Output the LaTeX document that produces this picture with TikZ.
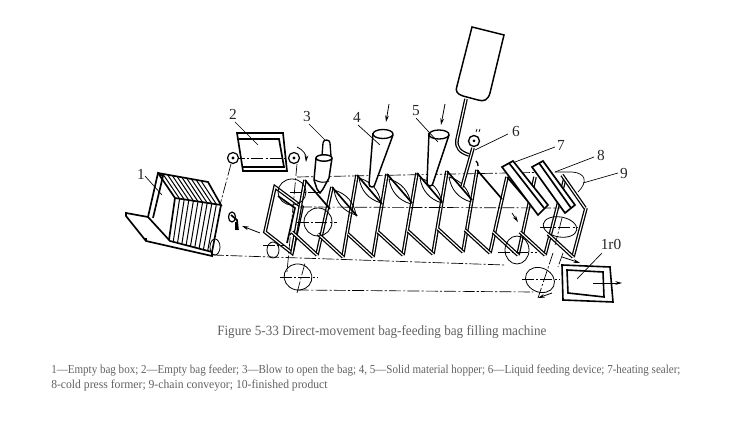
\documentclass[tikz,border=0pt]{standalone}
\usepackage{fontspec}
\setmainfont{Liberation Serif}
\newfontfamily\capfont[FakeStretch=0.93]{Liberation Serif}
\newfontfamily\legfont[FakeStretch=0.905]{Liberation Serif}
\newfontfamily\legtwofont[FakeStretch=0.955]{Liberation Serif}
\usetikzlibrary{arrows.meta}
\tikzset{
 heavy/.style={line width=1.25pt,line join=miter},
 twin/.style={line width=0.95pt,double,double distance=0.85pt,line join=miter},
 ctr/.style={line width=0.5pt,dash pattern=on 9pt off 1.6pt on 1.6pt off 1.6pt},
 cap line/.style={line width=0.5pt},
 tag/.style={font=\fontsize{11.5}{12}\selectfont,inner sep=0pt,text=black!85},
 mover/.style={line width=0.6pt,-{Stealth[length=5pt,width=2.8pt]}},
 caption text/.style={font=\capfont\fontsize{10.6}{12}\selectfont,text=black!62,inner sep=0pt,anchor=west},
 legend text/.style={font=\legfont\fontsize{9.15}{12}\selectfont,text=black!62,inner sep=0pt,anchor=west},
 legend two/.style={font=\legtwofont\fontsize{9.15}{12}\selectfont,text=black!62,inner sep=0pt,anchor=west},
}
\begin{document}
\begin{tikzpicture}[x=0.75pt,y=-0.75pt]
\useasboundingbox (0,0) rectangle (751,423);

% --- bag box 1
\draw[heavy] (126,213)--(148,217)--(170,241)--(212,252)--(212,256)--(146,241)--(126,216)--cycle;
\draw[heavy] (146,238)--(146,241);
\draw[heavy] (148,217)--(158,173)--(163,176)--(153,218);
\draw[heavy] (158,173)--(208,182)--(221,205)--(175,198)--(158,173);
\draw[heavy] (175,198)--(169,240);
\draw[heavy] (221,205)--(212,252);
\foreach \i in {1,...,9}{
  \draw[line width=.75pt] ({175+\i*4.6},{198+\i*0.7})--({169+\i*4.3},{240+\i*1.2});
  \draw[line width=.75pt] ({158+\i*4.8},{173+\i*0.9})--({175+\i*4.6},{198+\i*0.7});
}
% --- feeder 2
\draw[heavy] (237,133)--(283,133)--(287,171)--(243,171)--cycle;
\draw[heavy] (239,139)--(279,139)--(284,167)--(243,167);
\draw[ctr] (233,158)--(294,158);
\foreach \x in {233,294}{
  \draw[line width=.9pt,fill=white] (\x,158) circle (5.5);
  \fill (\x,158) circle (1.6);
}
\draw[mover] (297,147) to[bend left=35] (306,162);
\draw[ctr] (231,164)--(220,205);
\draw[ctr] (297,164)--(287,272);
% --- hook and arrow
\draw[line width=.9pt] (232,217) circle (3.5 and 5);
\draw[heavy] (231,215) -- (237,220) -- (238,230);
\draw[heavy] (236,222)--(236,230);
\draw[mover] (260,233)--(242,226);

% --- bags
\draw[twin] (275,187)--(302,207)--(292,253)--(265,232)--cycle;
\draw[heavy] (278,196)--(295,208)--(287,243);
\foreach \tx/\ty/\bx/\by in {
  305/180/292/253, 332/187/317/255, 357/175/343/257, 387/174/373/257,
  417/173/403/255, 447/171/433/254, 477/170/463/252, 507/177/490/253,
  535/177/518/255, 565/178/545/255, 586/208/573/257}{
  \draw[twin] (\tx,\ty)--(\bx,\by);
}
\foreach \bx/\by in {317/255,343/257,373/257,403/255,433/254,463/252,490/253,518/255,545/255,573/257}{
  \draw[twin] (\bx,\by)--++(-25,-23);
}
\foreach \tx/\ty in {305/180,332/187,357/175,387/174,417/173,447/171,477/170,507/177}{
  \draw[heavy] (\tx,\ty)--++(25,29);
}
% --- lens outlines
\foreach \tx/\ty in {332/187,357/175,387/176,418/175,447/174}{
  \draw[line width=.6pt] (\tx+2,\ty+3) to[bend left=32] (\tx+24,\ty+28);
  \draw[line width=.6pt] (\tx+2,\ty+3) to[bend right=32] (\tx+24,\ty+28);
}
% --- chain wheels
\draw[line width=.6pt] (292,192) ellipse (14 and 13);
\draw[line width=.6pt] (318,222) ellipse (14 and 14);
\draw[line width=.6pt] (273,250) ellipse (6 and 8);
\draw[line width=.6pt,rotate around={-15:(298,277)}] (298,277) ellipse (14 and 13);
\draw[line width=.6pt] (215,247) ellipse (5 and 8);
\draw[line width=.6pt] (517,250) ellipse (12 and 14);
\draw[line width=.6pt,rotate around={-25:(540,280)}] (540,280) ellipse (15 and 12);
\draw[line width=.6pt,rotate around={-10:(560,227)}] (560,227) ellipse (17 and 10);
% --- chain centre lines
\draw[ctr] (297,177)--(560,172);
\draw[line width=.5pt] (560,172)--(572,172) .. controls (586,173) and (588,182) .. (578,192);
\draw[ctr] (300,207)--(560,208);
\draw[ctr] (212,255)--(505,265);
\draw[ctr] (297,290)--(533,292);
\draw[ctr] (290,192)--(320,192);
\draw[ctr] (297,222)--(337,222);
\draw[ctr] (263,245)--(285,245);
\draw[ctr] (280,277)--(317,277);
\draw[ctr] (297,293)--(305,263);
\draw[ctr] (498,252)--(537,252);
\draw[ctr] (522,279)--(560,279);
\draw[ctr] (540,227)--(577,227);
\draw[ctr] (562,218)--(555,245);
\draw[ctr] (553,253)--(538,298);
\draw[ctr] (563,253)--(558,267);
\draw[mover] (552,293)--(538,298);
\draw[mover] (562,257)--(580,263);
\draw[mover] (512,213)--(518,222);

% --- blower 3
\draw[line width=1pt,fill=white] (322,156)--(323,143) arc (180:360:3.5 and 3) -- (331,156);
\draw[line width=1.1pt,fill=white] (316,158) -- (314,180) -- (317,189) -- (320,193) -- (323,189) -- (329,178) -- (332,158);
\draw[line width=1.1pt,fill=white] (324,158) ellipse (8 and 3.2);
\draw[line width=.8pt] (315,180) to[bend right=25] (329,181);

% --- hoppers
\draw[line width=1.1pt,fill=white] (373,133)--(369,184) arc (180:0:3 and 3) -- (393,135);
\draw[line width=1pt,fill=white] (383,134) ellipse (10 and 4.5);
\draw[line width=1.1pt,fill=white] (429,133)--(427,183) arc (180:0:3 and 3) -- (449,135);
\draw[line width=1pt,fill=white] (439,134.5) ellipse (10 and 4.5);
\draw[mover] (389,104)--(386,122);
\draw[mover] (445,104)--(441,125);

% --- liquid device
\draw[line width=1.1pt] (472,27)--(504,35)--(490,93) .. controls (488,100) and (484,102) .. (478,100)
  -- (463,96) .. controls (457,94) and (455,91) .. (457,86) -- cycle;
\draw[twin] (466,99)--(457,140) .. controls (456,148) and (460,152) .. (469,155);
\draw[twin] (473,148)--(462,187);
\draw[line width=1pt,fill=white] (474,141) circle (5.5);
\fill (474,141) circle (1.5);
\draw[line width=.5pt] (476,132)--(477,129) (479,132)--(480,129);
\draw[line width=1pt] (476,161) to[bend left=25] (478,166);

% --- sealers
\draw[heavy,fill=white] (502,167)--(513,161)--(548,205)--(538,215)--cycle;
\draw[heavy] (509,163)--(544,208);
\draw[heavy,fill=white] (532,167)--(543,161)--(575,205)--(565,213)--cycle;
\draw[heavy] (539,163)--(571,208);
\draw[twin] (562,175)--(585,208);

% --- finished product
\draw[line width=1.2pt] (562,265)--(610,267)--(613,302)--(563,300)--cycle;
\draw[line width=1.2pt] (567,270)--(603,272)--(604,297)--(568,293)--cycle;
\draw[mover] (593,283)--(622,283);

% --- numbered labels and their leaders
\node[tag] (n1) at (141,174) {1};
\node[tag] (n2) at (233,114) {2};
\node[tag] (n3) at (307,117) {3};
\node[tag] (n4) at (357,117) {4};
\node[tag] (n5) at (416,111) {5};
\node[tag] (n6) at (516,132) {6};
\node[tag] (n7) at (561,145) {7};
\node[tag] (n8) at (601,155) {8};
\node[tag] (n9) at (624,174) {9};
\node[tag] (n10) at (611,244) {1r0};
\coordinate (e1) at (162,195);
\coordinate (e2) at (258,145);
\coordinate (e3) at (325,140);
\coordinate (e4) at (380,145);
\coordinate (e5) at (438,142);
\coordinate (e6) at (475,150);
\coordinate (e7) at (515,162);
\coordinate (e8) at (555,172);
\coordinate (e9) at (583,183);
\coordinate (e10) at (577,279);
\draw[cap line] (145,176)--(e1);
\draw[cap line] (235,122)--(e2);
\draw[cap line] (309,124)--(e3);
\draw[cap line] (358,125)--(e4);
\draw[cap line] (416,118)--(e5);
\draw[cap line] (508,134)--(e6);
\draw[cap line] (555,147)--(e7);
\draw[cap line] (594,157)--(e8);
\draw[cap line] (618,173)--(e9);
\draw[cap line] (602,253)--(e10);

% --- caption
\node[caption text] (cap) at (217,332) {Figure 5-33 Direct-movement bag-feeding bag filling machine};
\node[legend text] (leg1) at (51,371) {1—Empty bag box; 2—Empty bag feeder; 3—Blow to open the bag; 4, 5—Solid material hopper; 6—Liquid feeding device; 7-heating sealer;};
\node[legend two] (leg2) at (51,386) {8-cold press former; 9-chain conveyor; 10-finished product};
\end{tikzpicture}
\end{document}
